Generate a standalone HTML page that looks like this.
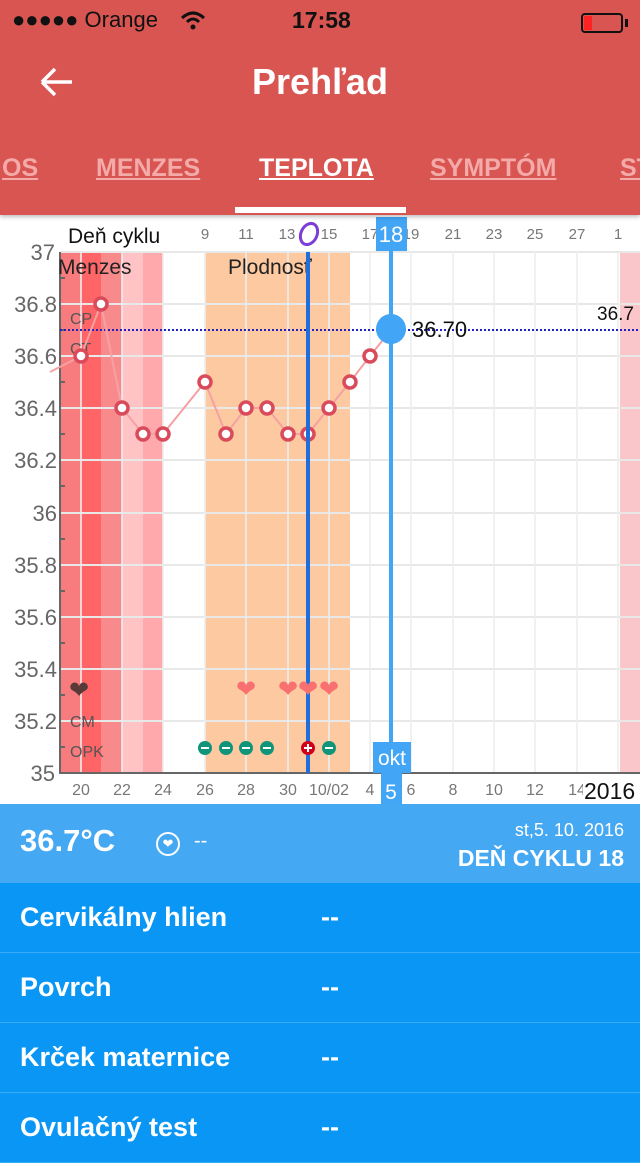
<!DOCTYPE html>
<html><head><meta charset="utf-8"><style>
body{margin:0;width:640px;height:1136px;overflow:hidden;font-family:"Liberation Sans",sans-serif;background:#fff;position:relative}
.hdr{position:absolute;left:0;top:0;width:640px;height:215px;background:#d85552;box-shadow:0 2px 4px rgba(0,0,0,.25);z-index:2}
.a{position:absolute;white-space:nowrap}
.tab{position:absolute;top:154px;font-size:25px;font-weight:bold;text-decoration:underline;color:#f3aaa8;font-family:"Liberation Sans",sans-serif}
.info{position:absolute;left:0;top:804px;width:640px;height:79px;background:#45a8f3}
.row{position:absolute;left:0;width:640px;height:69px;background:#0996f5;border-bottom:1px solid #3aabf6;color:#fff;font-weight:bold;font-size:27px}
.row span{position:absolute;top:19px}
</style></head><body>
<div class="hdr">
 <div class="a" style="left:12px;top:7px;font-size:22px;color:#111">●●●●● Orange</div>
 <svg class="a" style="left:180px;top:10px" width="26" height="20"><path d="M2 8 Q13 -2 24 8" stroke="#111" stroke-width="3" fill="none"/><path d="M7 12 Q13 6 19 12" stroke="#111" stroke-width="3" fill="none"/><circle cx="13" cy="17" r="2.5" fill="#111"/></svg>
 <div class="a" style="left:292px;top:7px;font-size:23px;color:#111;font-weight:bold">17:58</div>
 <div class="a" style="left:581px;top:13px;width:42px;height:20px;border:2px solid #111;border-radius:4px;box-sizing:border-box"><div style="width:8px;height:14px;margin:1px;background:#f22"></div></div>
 <div class="a" style="left:625px;top:19px;width:3px;height:8px;background:#111"></div>
 <svg class="a" style="left:38px;top:66px" width="36" height="32"><path d="M4 16 H34 M4 16 L17 3 M4 16 L17 29" stroke="#fff" stroke-width="3.5" fill="none"/></svg>
 <div class="a" style="left:0;width:640px;text-align:center;top:61px;font-size:36px;color:#fff;font-weight:bold">Prehľad</div>
 <div class="tab" style="left:2px">OS</div>
 <div class="tab" style="left:96px">MENZES</div>
 <div class="tab" style="left:259px;color:#fff">TEPLOTA</div>
 <div class="tab" style="left:430px">SYMPTÓM</div>
 <div class="tab" style="left:620px">ST</div>
 <div class="a" style="left:235px;top:207px;width:171px;height:6px;background:#fff"></div>
</div>
<svg class="a" style="left:0;top:0" width="640" height="805" font-family="Liberation Sans, sans-serif">
 <rect x="60" y="252" width="21" height="521" fill="#f87c7e"/>
 <rect x="81" y="252" width="20" height="521" fill="#ff6466"/>
 <rect x="101" y="252" width="21" height="521" fill="#f98a8c"/>
 <rect x="122" y="252" width="21" height="521" fill="#ffc3c6"/>
 <rect x="143" y="252" width="20" height="521" fill="#ffa9ac"/>
 <rect x="205" y="252" width="145" height="521" fill="#fdc9a1"/>
 <rect x="620" y="252" width="20" height="521" fill="#fbc6ca"/>
 <g stroke="#e8e8e8" stroke-width="2">
  <line x1="60" x2="640" y1="304" y2="304"/><line x1="60" x2="640" y1="356" y2="356"/><line x1="60" x2="640" y1="408" y2="408"/><line x1="60" x2="640" y1="460" y2="460"/><line x1="60" x2="640" y1="513" y2="513"/><line x1="60" x2="640" y1="565" y2="565"/><line x1="60" x2="640" y1="617" y2="617"/><line x1="60" x2="640" y1="669" y2="669"/><line x1="60" x2="640" y1="721" y2="721"/><line x1="60" x2="640" y1="252" y2="252"/>
 </g>
 <g stroke="#eee" stroke-width="2" opacity=".8">
  <line x1="81" x2="81" y1="252" y2="773"/><line x1="122" x2="122" y1="252" y2="773"/><line x1="163" x2="163" y1="252" y2="773"/><line x1="205" x2="205" y1="252" y2="773"/><line x1="246" x2="246" y1="252" y2="773"/><line x1="288" x2="288" y1="252" y2="773"/><line x1="329" x2="329" y1="252" y2="773"/><line x1="370" x2="370" y1="252" y2="773"/><line x1="411" x2="411" y1="252" y2="773"/><line x1="453" x2="453" y1="252" y2="773"/><line x1="494" x2="494" y1="252" y2="773"/><line x1="535" x2="535" y1="252" y2="773"/><line x1="577" x2="577" y1="252" y2="773"/><line x1="618" x2="618" y1="252" y2="773"/>
 </g>
 <line x1="60" x2="60" y1="252" y2="774" stroke="#666" stroke-width="2"/>
 <line x1="59" x2="640" y1="773" y2="773" stroke="#666" stroke-width="2"/>
 <g stroke="#666" stroke-width="2"><line x1="60" x2="65" y1="278" y2="278"/><line x1="60" x2="65" y1="330" y2="330"/><line x1="60" x2="65" y1="382" y2="382"/><line x1="60" x2="65" y1="434" y2="434"/><line x1="60" x2="65" y1="486" y2="486"/><line x1="60" x2="65" y1="539" y2="539"/><line x1="60" x2="65" y1="591" y2="591"/><line x1="60" x2="65" y1="643" y2="643"/><line x1="60" x2="65" y1="695" y2="695"/><line x1="60" x2="65" y1="747" y2="747"/></g>
 <g font-size="22" fill="#666" text-anchor="end">
  <text x="55" y="260">37</text><text x="57" y="312">36.8</text><text x="57" y="364">36.6</text><text x="57" y="416">36.4</text><text x="57" y="468">36.2</text><text x="57" y="521">36</text><text x="57" y="573">35.8</text><text x="57" y="625">35.6</text><text x="57" y="677">35.4</text><text x="57" y="729">35.2</text><text x="55" y="781">35</text>
 </g>
 <line x1="60" x2="640" y1="330" y2="330" stroke="#2020c0" stroke-width="2" stroke-dasharray="2,2"/>
 <text x="58" y="274" font-size="21" fill="#222">Menzes</text>
 <text x="228" y="274" font-size="21" fill="#222">Plodnosť</text>
 <g font-size="16" fill="#555"><text x="70" y="324">CP</text><text x="70" y="354">CT</text><text x="70" y="727">CM</text><text x="70" y="757">OPK</text></g>
 <polyline points="50,372 81,356 101,304 122,408 143,434 163,434 205,382 226,434 246,408 267,408 288,434 308,434 329,408 350,382 370,356 391,330" fill="none" stroke="#f5a0a3" stroke-width="2"/>
 <g fill="#fff" stroke="#d94a5a" stroke-width="3.5">
  <circle cx="81" cy="356" r="6"/><circle cx="101" cy="304" r="6"/><circle cx="122" cy="408" r="6"/><circle cx="143" cy="434" r="6"/><circle cx="163" cy="434" r="6"/><circle cx="205" cy="382" r="6"/><circle cx="226" cy="434" r="6"/><circle cx="246" cy="408" r="6"/><circle cx="267" cy="408" r="6"/><circle cx="288" cy="434" r="6"/><circle cx="308" cy="434" r="6"/><circle cx="329" cy="408" r="6"/><circle cx="350" cy="382" r="6"/><circle cx="370" cy="356" r="6"/>
 </g>
 <line x1="308" x2="308" y1="252" y2="773" stroke="#1e6fdc" stroke-width="4"/>
 <line x1="391" x2="391" y1="217" y2="805" stroke="#42a5f5" stroke-width="4"/>
 <circle cx="391" cy="329" r="15" fill="#42a5f5"/>
 <text x="412" y="337" font-size="22" fill="#111">36.70</text>
 <text x="597" y="320" font-size="19" fill="#111">36.7</text>
 <g font-size="24" text-anchor="middle">
  <text x="79" y="698" fill="#5a3a38">❤</text>
  <text x="246" y="697" fill="#f87070">❤</text><text x="288" y="697" fill="#f87070">❤</text><text x="308" y="697" fill="#f87070">❤</text><text x="329" y="697" fill="#f87070">❤</text>
 </g>
 <g fill="#11957a"><circle cx="205" cy="748" r="7"/><circle cx="226" cy="748" r="7"/><circle cx="246" cy="748" r="7"/><circle cx="267" cy="748" r="7"/><circle cx="329" cy="748" r="7"/></g>
 <circle cx="308" cy="748" r="7" fill="#d0021b"/>
 <g stroke="#fff" stroke-width="2"><line x1="201" x2="209" y1="748" y2="748"/><line x1="222" x2="230" y1="748" y2="748"/><line x1="242" x2="250" y1="748" y2="748"/><line x1="263" x2="271" y1="748" y2="748"/><line x1="325" x2="333" y1="748" y2="748"/><line x1="304" x2="312" y1="748" y2="748"/><line x1="308" x2="308" y1="744" y2="752"/></g>
 <text x="68" y="243" font-size="21" fill="#111">Deň cyklu</text>
 <g font-size="15" fill="#777" text-anchor="middle">
  <text x="205" y="239">9</text><text x="246" y="239">11</text><text x="287" y="239">13</text><text x="329" y="239">15</text><text x="370" y="239">17</text><text x="411" y="239">19</text><text x="453" y="239">21</text><text x="494" y="239">23</text><text x="535" y="239">25</text><text x="577" y="239">27</text><text x="618" y="239">1</text>
 </g>
 <ellipse cx="309" cy="234" rx="8" ry="11" transform="rotate(25 309 234)" fill="#fff" stroke="#7b3fd6" stroke-width="3"/>
 <rect x="376" y="217" width="31" height="34" fill="#42a5f5"/>
 <text x="391" y="242" font-size="22" fill="#fff" text-anchor="middle">18</text>
 <g font-size="16" fill="#777" text-anchor="middle">
  <text x="81" y="795">20</text><text x="122" y="795">22</text><text x="163" y="795">24</text><text x="205" y="795">26</text><text x="246" y="795">28</text><text x="288" y="795">30</text><text x="329" y="795">10/02</text><text x="370" y="795">4</text><text x="411" y="795">6</text><text x="453" y="795">8</text><text x="494" y="795">10</text><text x="535" y="795">12</text><text x="577" y="795">14</text>
 </g>
 <rect x="583" y="776" width="57" height="28" fill="#fff"/>
 <text x="584" y="799" font-size="23" fill="#111">2016</text>
 <rect x="373" y="742" width="38" height="31" fill="#42a5f5"/>
 <text x="392" y="765" font-size="21" fill="#fff" text-anchor="middle">okt</text>
 <rect x="381" y="773" width="21" height="32" fill="#42a5f5"/>
 <text x="391" y="799" font-size="21" fill="#fff" text-anchor="middle">5</text>
</svg>
<div class="info">
 <div class="a" style="left:20px;top:19px;font-size:31px;color:#fff;font-weight:bold">36.7°C</div>
 <div class="a" style="left:156px;top:28px;width:24px;height:24px;border:2px solid #fff;border-radius:50%;box-sizing:border-box;color:#fff;font-size:13px;text-align:center;line-height:20px">❤</div>
 <div class="a" style="left:194px;top:26px;font-size:20px;color:#fff">--</div>
 <div class="a" style="right:16px;top:16px;font-size:18px;color:#fff">st,5. 10. 2016</div>
 <div class="a" style="right:16px;top:41px;font-size:23px;color:#fff;font-weight:bold">DEŇ CYKLU 18</div>
</div>
<div class="row" style="top:883px"><span style="left:20px">Cervikálny hlien</span><span style="left:321px">--</span></div>
<div class="row" style="top:953px"><span style="left:20px">Povrch</span><span style="left:321px">--</span></div>
<div class="row" style="top:1023px"><span style="left:20px">Krček maternice</span><span style="left:321px">--</span></div>
<div class="row" style="top:1093px"><span style="left:20px">Ovulačný test</span><span style="left:321px">--</span></div>
</body></html>
